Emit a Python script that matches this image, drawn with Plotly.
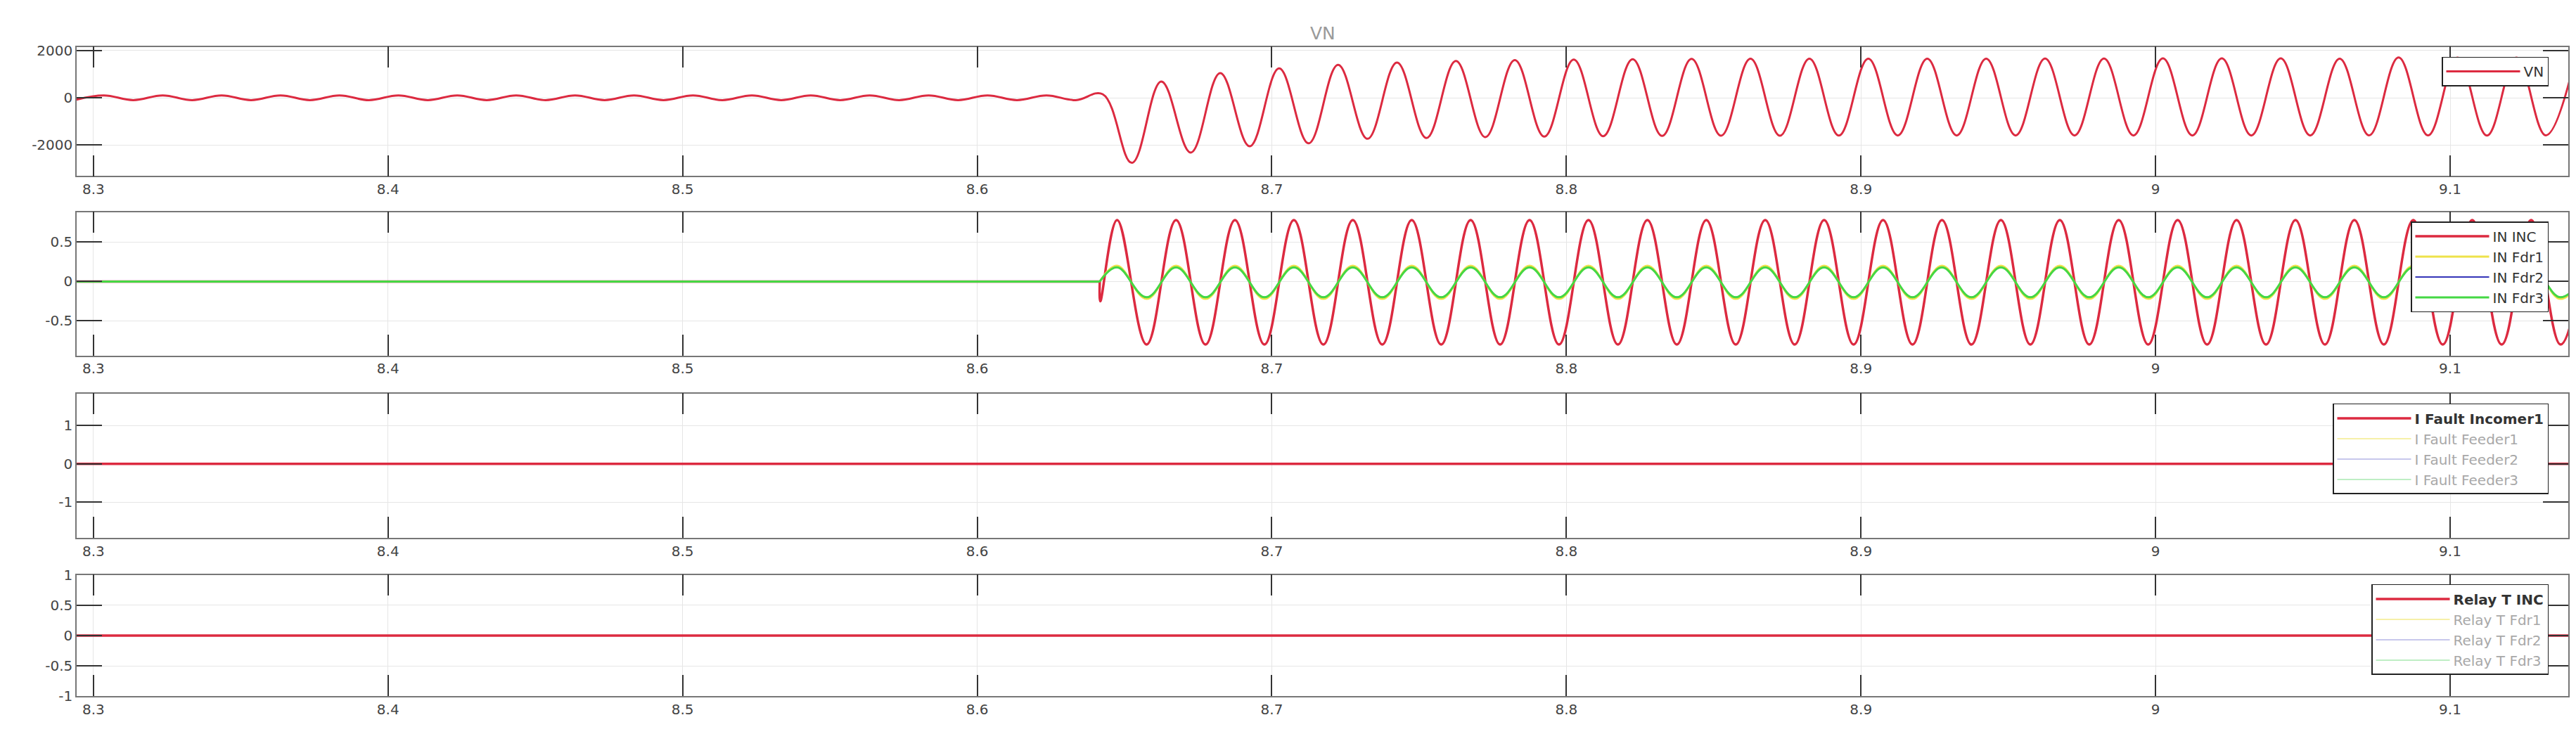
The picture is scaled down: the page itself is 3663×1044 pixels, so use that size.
import numpy as np
import plotly.graph_objects as go

# ---------------- data ----------------
T_START = 8.2943
T_END = 9.1401
HALF_CYCLE = 0.01  # spacing of the read extremes (50 Hz)

x_tick_vals = [8.3, 8.4, 8.5, 8.6, 8.7, 8.8, 8.9, 9.0, 9.1]
x_tick_text = ["8.3", "8.4", "8.5", "8.6", "8.7", "8.8", "8.9", "9", "9.1"]

# Panel 1: VN, extremes
vn_pre_t0 = 8.2935
vn_pre_vals = [-100, 100, -100, 100, -100, 100, -100, 100, -100, 100,
               -100, 100, -100, 100, -100, 100, -100, 100, -100, 100,
               -100, 100, -100, 100, -100, 100, -100, 100, -100, 100,
               -100, 100, -100, 100, -100]
vn_fault_t = 8.6426
vn_fault_v = 150
vn_post_t0 = 8.6525
vn_post_vals = [-2745, 687, -2310, 1043, -2049, 1238, -1922, 1391, -1730, 1487,
                -1700, 1550, -1660, 1590, -1640, 1610, -1620, 1630, -1610, 1640,
                -1600, 1645, -1600, 1650, -1595, 1650, -1590, 1650, -1590, 1652,
                -1590, 1655, -1590, 1655, -1590, 1660, -1590, 1660, -1590, 1660,
                -1590, 1652, -1585, 1700, -1585, 1690, -1595, 1690, -1585, 1690]

# Panel 2: neutral currents
in_onset_t = 8.6416
in_inc_dip_t = 8.6418
in_inc_dip_v = -0.25
in_post_t0 = 8.6475
in_inc_post = [
    0.78, -0.80, 0.78, -0.80, 0.78, -0.80, 0.78, -0.80, 0.78, -0.80,
    0.78, -0.80, 0.78, -0.80, 0.78, -0.80, 0.78, -0.80, 0.78, -0.80,
    0.78, -0.80, 0.78, -0.80, 0.78, -0.80, 0.78, -0.80, 0.78, -0.80,
    0.78, -0.80, 0.78, -0.80, 0.78, -0.80, 0.78, -0.80, 0.78, -0.80,
    0.78, -0.80, 0.78, -0.80, 0.78, -0.80, 0.78, -0.80, 0.78, -0.80, 0.78]
in_fdr1_post = [
    0.20, -0.22, 0.20, -0.22, 0.20, -0.22, 0.20, -0.22, 0.20, -0.22,
    0.20, -0.22, 0.20, -0.22, 0.20, -0.22, 0.20, -0.22, 0.20, -0.22,
    0.20, -0.22, 0.20, -0.22, 0.20, -0.22, 0.20, -0.22, 0.20, -0.22,
    0.20, -0.22, 0.20, -0.22, 0.20, -0.22, 0.20, -0.22, 0.20, -0.22,
    0.20, -0.22, 0.20, -0.22, 0.20, -0.22, 0.20, -0.22, 0.20, -0.22, 0.20]
in_fdr2_post = [
    0.18, -0.20, 0.18, -0.20, 0.18, -0.20, 0.18, -0.20, 0.18, -0.20,
    0.18, -0.20, 0.18, -0.20, 0.18, -0.20, 0.18, -0.20, 0.18, -0.20,
    0.18, -0.20, 0.18, -0.20, 0.18, -0.20, 0.18, -0.20, 0.18, -0.20,
    0.18, -0.20, 0.18, -0.20, 0.18, -0.20, 0.18, -0.20, 0.18, -0.20,
    0.18, -0.20, 0.18, -0.20, 0.18, -0.20, 0.18, -0.20, 0.18, -0.20, 0.18]
in_fdr3_post = [
    0.18, -0.20, 0.18, -0.20, 0.18, -0.20, 0.18, -0.20, 0.18, -0.20,
    0.18, -0.20, 0.18, -0.20, 0.18, -0.20, 0.18, -0.20, 0.18, -0.20,
    0.18, -0.20, 0.18, -0.20, 0.18, -0.20, 0.18, -0.20, 0.18, -0.20,
    0.18, -0.20, 0.18, -0.20, 0.18, -0.20, 0.18, -0.20, 0.18, -0.20,
    0.18, -0.20, 0.18, -0.20, 0.18, -0.20, 0.18, -0.20, 0.18, -0.20, 0.18]

# Panel 3 and 4: fault currents and relay times (all zero over the window)
span_t = [T_START, T_END]
i_fault_inc = [0, 0]
i_fault_fdr1 = [0, 0]
i_fault_fdr2 = [0, 0]
i_fault_fdr3 = [0, 0]
relay_t_inc = [0, 0]
relay_t_fdr1 = [0, 0]
relay_t_fdr2 = [0, 0]
relay_t_fdr3 = [0, 0]

# ---------------- styling ----------------
RED = "#dc2a40"
YELLOW = "#eee24a"
BLUE = "#3434b8"
GREEN = "#44d844"
L_YELLOW = "#f6f0a8"
L_BLUE = "#b4b4e6"
L_GREEN = "#a8e8b0"
GRAY_TXT = "#a8a8a8"
FONT = "DejaVu Sans, Liberation Sans, sans-serif"

W, H = 3663, 1044
xd = [101 / W, 3644 / W]
doms = [(47.7, 235.7), (288.3, 497.0), (552.3, 762.3), (816.5, 993.0)]
ydoms = [[1 - b / H, 1 - t / H] for t, b in doms]

fig = go.Figure()

# Panel 1
vn_t = np.concatenate([vn_pre_t0 + HALF_CYCLE * np.arange(len(vn_pre_vals)),
                       [vn_fault_t],
                       vn_post_t0 + HALF_CYCLE * np.arange(len(vn_post_vals))])
vn_v = np.concatenate([vn_pre_vals, [vn_fault_v], vn_post_vals])
fig.add_trace(go.Scatter(x=vn_t, y=vn_v, mode="lines", name="VN", showlegend=True,
                         line=dict(color=RED, width=3, shape="spline", smoothing=1.1),
                         xaxis="x", yaxis="y", legend="legend"))

# Panel 2
post_t = in_post_t0 + HALF_CYCLE * np.arange(len(in_inc_post))
series2 = [("IN INC", RED, 3.5, in_inc_post, True),
           ("IN Fdr1", YELLOW, 3, in_fdr1_post, False),
           ("IN Fdr2", BLUE, 2, in_fdr2_post, False),
           ("IN Fdr3", GREEN, 3, in_fdr3_post, False)]
for i, (nm, col, wd, vals, dip) in enumerate(series2):
    # pre-fault flat part
    fig.add_trace(go.Scatter(x=[T_START, in_onset_t], y=[0, 0], mode="lines",
                             line=dict(color=col, width=wd), showlegend=False,
                             xaxis="x2", yaxis="y2", legend="legend2",
                             hoverinfo="skip"))
    if dip:
        xs = np.concatenate([[in_onset_t, in_inc_dip_t], post_t])
        ys = np.concatenate([[0, in_inc_dip_v], vals])
    else:
        xs = np.concatenate([[in_onset_t], post_t])
        ys = np.concatenate([[0], vals])
    fig.add_trace(go.Scatter(x=xs, y=ys, mode="lines", name=nm, showlegend=True,
                             line=dict(color=col, width=wd, shape="spline", smoothing=1.1),
                             xaxis="x2", yaxis="y2", legend="legend2", legendrank=i + 1))

# Panel 3
series3 = [("<b>I Fault Incomer1</b>", RED, 3.5, i_fault_inc),
           (f"<span style='color:{GRAY_TXT}'>I Fault Feeder1</span>", L_YELLOW, 2, i_fault_fdr1),
           (f"<span style='color:{GRAY_TXT}'>I Fault Feeder2</span>", L_BLUE, 1.5, i_fault_fdr2),
           (f"<span style='color:{GRAY_TXT}'>I Fault Feeder3</span>", L_GREEN, 1.5, i_fault_fdr3)]
order = [1, 2, 3, 0]
for k in order:
    nm, col, wd, vals = series3[k]
    fig.add_trace(go.Scatter(x=span_t, y=vals, mode="lines", name=nm, showlegend=True,
                             line=dict(color=col, width=wd), legendrank=k + 1,
                             xaxis="x3", yaxis="y3", legend="legend3"))

# Panel 4
series4 = [("<b>Relay T INC</b>", RED, 3.5, relay_t_inc),
           (f"<span style='color:{GRAY_TXT}'>Relay T Fdr1</span>", L_YELLOW, 2, relay_t_fdr1),
           (f"<span style='color:{GRAY_TXT}'>Relay T Fdr2</span>", L_BLUE, 1.5, relay_t_fdr2),
           (f"<span style='color:{GRAY_TXT}'>Relay T Fdr3</span>", L_GREEN, 1.5, relay_t_fdr3)]
for k in order:
    nm, col, wd, vals = series4[k]
    fig.add_trace(go.Scatter(x=span_t, y=vals, mode="lines", name=nm, showlegend=True,
                             line=dict(color=col, width=wd), legendrank=k + 1,
                             xaxis="x4", yaxis="y4", legend="legend4"))

axis_common = dict(showline=True, linecolor="#777777", linewidth=1.5, mirror="ticks",
                   ticks="inside", tickcolor="#333333", tickwidth=1.5,
                   showgrid=True, gridcolor="#e6e6e6", gridwidth=1, zeroline=False,
                   tickfont=dict(family=FONT, size=20, color="#444444"))

y_ranges = [[-3300, 2150], [-0.938, 0.881], [-1.93, 1.84], [-1.0, 1.0]]
y_ticks = [([2000, 0, -2000], ["2000", "0", "-2000"]),
           ([0.5, 0, -0.5], ["0.5", "0", "-0.5"]),
           ([1, 0, -1], ["1", "0", "-1"]),
           ([1, 0.5, 0, -0.5, -1], ["1", "0.5", "0", "-0.5", "-1"])]

lay = {}
for i in range(4):
    sx = "" if i == 0 else str(i + 1)
    lay["xaxis" + sx] = dict(axis_common, domain=xd, anchor="y" + sx,
                             range=[T_START, T_END], tickvals=x_tick_vals,
                             ticktext=x_tick_text, ticklen=30)
    lay["yaxis" + sx] = dict(axis_common, domain=ydoms[i], anchor="x" + sx,
                             range=y_ranges[i], tickvals=y_ticks[i][0],
                             ticktext=y_ticks[i][1], ticklen=36)

legend_tops = [62, 302, 567, 830]
legend_common = dict(xanchor="right", x=3616 / W, yanchor="top", bgcolor="white",
                     bordercolor="#222222", borderwidth=1.5, itemwidth=105,
                     font=dict(family=FONT, size=20, color="#333333"),
                     tracegroupgap=0)
for i, top in enumerate(legend_tops):
    key = "legend" if i == 0 else "legend" + str(i + 1)
    lay[key] = dict(legend_common, y=1 - top / H)

fig.update_layout(width=W, height=H, margin=dict(l=0, r=0, t=0, b=0),
                  paper_bgcolor="white", plot_bgcolor="white", showlegend=True,
                  font=dict(family=FONT, size=19, color="#444444"),
                  **lay)

fig.add_annotation(text="VN", xref="paper", yref="paper", x=(xd[0] + xd[1]) / 2,
                   y=1 - 28 / H, showarrow=False, xanchor="center", yanchor="middle",
                   font=dict(family=FONT, size=25, color="#9a9a9a"))

fig.write_html("out.html")
